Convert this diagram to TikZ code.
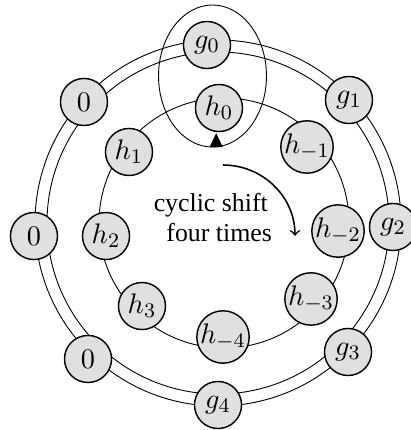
\documentclass[tikz,border=0pt]{standalone}
\usepackage[no-math]{fontspec}
\setmainfont{Liberation Serif}
\usetikzlibrary{calc}
\definecolor{ballfill}{RGB}{224,224,224}

\begin{document}
\begin{tikzpicture}[font=\normalsize,>=to,
    ball/.style={circle,draw,line width=0.55pt,fill=ballfill,
                 minimum size=0.64cm,inner sep=0pt,
                 font=\fontsize{11}{13}\selectfont},
    ring/.style={line width=0.35pt}]
  \useasboundingbox (0,0) rectangle (5.576,5.848);
  % rings
  \coordinate (co) at (2.965,2.815);
  \coordinate (ci) at (3.046,2.815);
  \draw[ring] (co) circle (2.326);
  \draw[ring] (co) circle (2.489);
  \draw[ring] (ci) circle (1.70);
  % outer ring
  \node[ball] (g0) at (2.815,5.236) {$g_0$};
  \node[ball] (g1) at (4.746,4.488) {$g_1$};
  \node[ball] (g2) at (5.345,2.761) {$g_2$};
  \node[ball] (g3) at (4.733,1.061) {$g_3$};
  \node[ball] (g4) at (2.965,0.340) {$g_4$};
  \node[ball] (z1) at (1.197,0.966) {$0$};
  \node[ball] (z2) at (0.462,2.638) {$0$};
  \node[ball] (z3) at (1.142,4.461) {$0$};
  % inner ring
  \node[ball] (h0)  at (2.978,4.379) {$h_0$};
  \node[ball] (hm1) at (4.175,3.849) {$h_{-1}$};
  \node[ball] (hm2) at (4.597,2.706) {$h_{-2}$};
  \node[ball] (hm3) at (4.230,1.782) {$h_{-3}$};
  \node[ball] (hm4) at (3.033,1.265) {$h_{-4}$};
  \node[ball] (h3)  at (1.931,1.686) {$h_3$};
  \node[ball] (h2)  at (1.442,2.638) {$h_2$};
  \node[ball] (h1)  at (1.754,3.781) {$h_1$};
  % window over g0 and h0
  \coordinate (wc) at (2.890,4.814);
  \draw[ring] (wc) ellipse (0.734 and 0.966);
  \coordinate (wb) at ($(wc)+(0.05,-0.966)$);
  \fill (wb) ++(-0.089,0) -- ++(0.178,0) -- ++(-0.089,0.19) -- cycle;
  % shift
  \node[anchor=base] (t1) at (2.867,2.965) {cyclic shift};
  \node[anchor=base] (t2) at (2.981,2.570) {four times};
  \coordinate (as) at (3.033,3.604);
  \coordinate (ae) at (4.012,2.640);
  \draw[->,semithick] (as) to[out=0,in=90] (ae);
\end{tikzpicture}
\end{document}
